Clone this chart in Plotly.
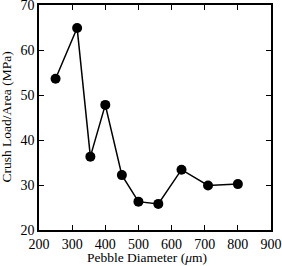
import plotly.graph_objects as go

diameter = [250, 315, 355, 400, 450, 500, 560, 630, 710, 800]
crush = [53.6, 64.9, 36.3, 47.8, 32.2, 26.3, 25.8, 33.4, 29.9, 30.2]
x_title = "Pebble Diameter (<i>μ</i>m)"
y_title = "Crush Load/Area (MPa)"

fig = go.Figure()
fig.add_trace(go.Scatter(
    x=diameter, y=crush, mode="lines+markers",
    line=dict(color="black", width=1.5),
    marker=dict(color="black", size=10),
    showlegend=False, cliponaxis=False,
))

axis_common = dict(
    showline=True, linecolor="black", linewidth=1.5, mirror="ticks",
    ticks="inside", ticklen=5, tickwidth=1, tickcolor="black",
    showgrid=False, zeroline=False, automargin=False,
    ticklabeloverflow="allow",
    tickfont=dict(family="Liberation Serif", size=14, color="black"),
)

fig.update_layout(
    width=282, height=266,
    margin=dict(l=39, r=11, t=5, b=36),
    paper_bgcolor="white", plot_bgcolor="white",
    font=dict(family="Liberation Serif", size=14, color="black"),
    xaxis=dict(range=[200, 900], dtick=100, tick0=200, **axis_common),
    yaxis=dict(range=[20, 70], dtick=10, tick0=20, **axis_common),
    annotations=[
        dict(text=x_title, xref="paper", yref="paper", x=0.466, y=-0.12,
             xanchor="center", yanchor="middle", showarrow=False,
             font=dict(family="Liberation Serif", size=13.5, color="black")),
        dict(text=y_title, xref="paper", yref="paper", x=-0.142, y=0.5,
             xanchor="center", yanchor="middle", showarrow=False, textangle=-90,
             font=dict(family="Liberation Serif", size=13.5, color="black")),
    ],
)

fig.write_html("out.html", config={"displayModeBar": False},
               post_script="document.body.style.margin='0';")
